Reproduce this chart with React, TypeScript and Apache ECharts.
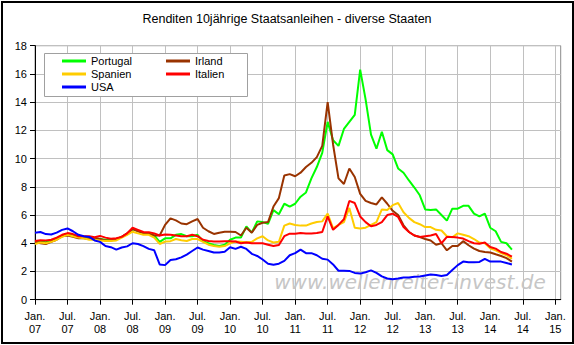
import React, { useEffect, useRef } from 'react';
import * as echarts from 'echarts';

const FONT = '"Liberation Sans", Arial, sans-serif';

const titleText = 'Renditen 10jährige Staatsanleihen - diverse Staaten';
const watermark = 'www.wellenreiter-invest.de';

const monthNames = ['Jan.', 'Feb.', 'Mär.', 'Apr.', 'Mai', 'Jun.', 'Jul.', 'Aug.', 'Sep.', 'Okt.', 'Nov.', 'Dez.'];
const years = ['07', '08', '09', '10', '11', '12', '13', '14', '15'];
const axisMonthCount = 98; // Jan. 07 .. Feb. 15

const categories: string[] = [];
years.forEach((y) => monthNames.forEach((m) => categories.push(m + '\n' + y)));
const axisCategories = categories.slice(0, axisMonthCount);

const seriesNames = ['Portugal', 'Irland', 'Spanien', 'Italien', 'USA'];
const seriesColors = ['#00ff00', '#993300', '#ffcc00', '#ff0000', '#0000ff'];

// monthly values, Jan. 07 .. May 14
const portugal = [
  4.05, 4.12, 4.08, 4.18, 4.3, 4.5, 4.65, 4.55, 4.45, 4.42, 4.35, 4.35,
  4.3, 4.25, 4.25, 4.28, 4.45, 4.65, 5.0, 4.88, 4.75, 4.7, 4.55, 4.1,
  4.35, 4.35, 4.6, 4.65, 4.5, 4.5, 4.6, 4.15, 4.0, 3.88, 3.8, 3.9,
  4.25, 4.4, 4.4, 5.2, 4.75, 5.55, 5.5, 5.38, 6.35, 6.05, 6.8, 6.6,
  6.8, 7.3, 7.6, 8.6, 9.4, 10.4, 12.6, 11.3, 10.9, 12.1, 12.6, 13.1,
  16.3, 14.2, 11.7, 10.7, 11.9, 10.6, 10.3, 9.3, 9.0, 8.45, 7.95, 7.4,
  6.4, 6.35, 6.4, 6.0, 5.6, 6.45, 6.45, 6.65, 6.65, 6.1, 5.9, 6.1,
  5.1, 4.85, 4.1, 4.0, 3.55,
];
const irland = [
  4.1, 4.0, 3.95, 4.1, 4.25, 4.5, 4.55, 4.45, 4.35, 4.35, 4.3, 4.35,
  4.3, 4.2, 4.2, 4.3, 4.45, 4.7, 5.0, 4.85, 4.7, 4.65, 4.55, 4.55,
  5.3, 5.76, 5.62, 5.4, 5.35, 5.55, 5.72, 5.1, 4.85, 4.66, 4.75, 4.82,
  4.82, 4.8, 4.55, 5.1, 4.75, 5.3, 5.45, 5.5, 6.6, 7.2, 8.8, 8.9,
  8.75, 9.0, 9.4, 9.7, 10.1, 10.9, 14.0, 11.0, 8.6, 8.2, 9.3, 8.7,
  7.5, 7.0, 6.85, 6.75, 7.25, 6.8, 6.3, 6.0, 5.27, 4.8, 4.55, 4.44,
  4.3, 4.2, 3.9, 4.0, 3.5, 3.8, 3.8, 4.15, 3.86, 3.62, 3.45, 3.38,
  3.35, 3.22, 3.1, 2.95, 2.7,
];
const spanien = [
  3.95, 4.05, 4.0, 4.1, 4.25, 4.45, 4.6, 4.5, 4.4, 4.35, 4.25, 4.25,
  4.2, 4.16, 4.16, 4.2, 4.4, 4.6, 4.82, 4.7, 4.6, 4.6, 4.4, 3.95,
  4.12, 4.15, 4.3, 4.22, 4.16, 4.3, 4.3, 4.1, 3.9, 3.8, 3.76, 3.8,
  4.0, 4.12, 4.1, 4.08, 4.1, 4.35, 4.5, 4.2, 4.05, 4.1, 5.25, 5.4,
  5.3, 5.25, 5.25, 5.4, 5.5, 5.55, 6.1, 5.05, 5.3, 5.5, 6.5, 5.1,
  5.05, 5.1, 5.3, 5.5, 6.4, 6.35, 6.7, 6.85, 6.2, 5.8, 5.5, 5.35,
  5.15, 5.15, 4.95, 4.9, 4.5, 4.42, 4.7, 4.6, 4.5, 4.3, 4.05, 4.0,
  3.65, 3.5, 3.3, 3.15, 2.9,
];
const italien = [
  4.16, 4.22, 4.2, 4.25, 4.4, 4.6, 4.72, 4.65, 4.5, 4.5, 4.5, 4.42,
  4.52, 4.4, 4.32, 4.35, 4.45, 4.7, 5.1, 4.95, 4.8, 4.78, 4.7, 4.55,
  4.62, 4.6, 4.55, 4.5, 4.5, 4.6, 4.5, 4.25, 4.16, 4.12, 4.12, 4.15,
  4.15, 4.12, 4.0, 4.05, 4.0, 4.0, 4.0, 3.9, 3.8, 3.88, 4.5, 4.68,
  4.68, 4.72, 4.7, 4.7, 4.72, 4.8, 5.9, 4.95, 5.3, 5.7, 7.0, 6.85,
  5.9, 5.5, 5.2, 5.3, 5.5, 6.0, 6.1, 5.86, 5.15, 4.8, 4.55, 4.45,
  4.5, 4.55, 4.65, 4.0, 4.45, 4.45, 4.4, 4.33, 4.15, 4.0, 3.97, 4.05,
  3.74, 3.62, 3.38, 3.26, 3.05,
];
const usa = [
  4.75, 4.8, 4.65, 4.62, 4.75, 4.95, 5.05, 4.85, 4.6, 4.5, 4.45, 4.2,
  4.1, 3.8, 3.72, 3.55, 3.7, 3.78, 4.0, 3.95, 3.8, 3.6, 3.5, 2.5,
  2.45, 2.82, 2.87, 3.0, 3.2, 3.45, 3.7, 3.55, 3.45, 3.34, 3.34, 3.4,
  3.72, 3.6, 3.75, 3.6, 3.25, 3.1, 2.85, 2.55, 2.47, 2.55, 2.75, 3.15,
  3.3, 3.55, 3.3, 3.3, 3.15, 2.9, 2.84, 2.5, 2.05, 2.05, 2.04, 1.9,
  1.85, 1.95, 2.08, 1.9, 1.65, 1.5, 1.45, 1.5, 1.57, 1.57, 1.62, 1.65,
  1.72, 1.78, 1.75, 1.68, 1.75, 2.1, 2.45, 2.7, 2.65, 2.65, 2.68, 2.9,
  2.7, 2.7, 2.7, 2.6, 2.5,
];
const seriesValues = [portugal, irland, spanien, italien, usa];

const yMin = 0;
const yMax = 18;
const yStep = 2;

export default function App() {
  const ref = useRef<HTMLDivElement>(null);

  useEffect(() => {
    if (!ref.current) return;
    const chart = echarts.init(ref.current, null, { renderer: 'svg' });

    const legendCommon = {
      orient: 'vertical' as const,
      top: 54.5,
      itemWidth: 24,
      itemHeight: 3,
      itemGap: 0,
      icon: 'rect',
      padding: 0,
      selectedMode: false,
      z: 6,
      textStyle: { fontSize: 11, lineHeight: 13, color: '#000', fontFamily: FONT },
    };

    chart.setOption({
      animation: false,
      backgroundColor: '#fff',
      title: {
        text: titleText,
        left: 'center',
        top: 12,
        padding: 0,
        textStyle: { fontSize: 12.5, fontWeight: 'normal', color: '#000', fontFamily: FONT },
      },
      grid: {
        left: 35,
        right: 13.3,
        top: 45.7,
        bottom: 45.3,
        show: true,
        borderColor: '#8c8c8c',
        borderWidth: 1,
        backgroundColor: '#fff',
      },
      legend: [
        { ...legendCommon, left: 62, data: ['Portugal', 'Spanien', 'USA'] },
        { ...legendCommon, left: 166, data: ['Irland', 'Italien'] },
      ],
      xAxis: {
        type: 'category',
        data: axisCategories,
        boundaryGap: false,
        axisLine: { show: true, lineStyle: { color: '#000', width: 1 } },
        axisTick: { show: true, interval: 5, length: 5, lineStyle: { color: '#000' } },
        axisLabel: {
          interval: 5,
          fontSize: 11,
          lineHeight: 13,
          margin: 10,
          color: '#000',
          fontFamily: FONT,
        },
        splitLine: { show: true, interval: 5, lineStyle: { color: '#c0c0c0', width: 1 } },
      },
      yAxis: {
        type: 'value',
        min: yMin,
        max: yMax,
        interval: yStep,
        axisLine: { show: true, lineStyle: { color: '#000', width: 1 } },
        axisTick: { show: true, length: 5, lineStyle: { color: '#000' } },
        axisLabel: { fontSize: 11, margin: 8, color: '#000', fontFamily: FONT },
        splitLine: { show: true, lineStyle: { color: '#c0c0c0', width: 1 } },
      },
      graphic: [
        {
          type: 'text',
          z: 1,
          x: 410,
          y: 282,
          style: {
            text: watermark,
            fill: '#c6c6c6',
            font: 'italic 20px "DejaVu Sans", sans-serif',
            textAlign: 'center',
            textVerticalAlign: 'middle',
          },
        },
        {
          type: 'rect',
          z: 5,
          shape: { x: 44.5, y: 53.5, width: 203, height: 43 },
          style: { fill: '#fff', stroke: '#a0a0a0', lineWidth: 1 },
        },
        {
          type: 'rect',
          z: 10,
          shape: { x: 2, y: 2, width: 571, height: 341 },
          style: { fill: 'none', stroke: '#000', lineWidth: 2 },
        },
      ],
      series: seriesNames.map((name, i) => ({
        name,
        type: 'line',
        data: seriesValues[i],
        showSymbol: false,
        symbol: 'none',
        lineStyle: { color: seriesColors[i], width: 2 },
        itemStyle: { color: seriesColors[i] },
        z: 2 + i * 0.1,
      })),
    });

    return () => chart.dispose();
  }, []);

  return (
    <div
      ref={ref}
      style={{ position: 'absolute', left: 0, top: 0, width: 574, height: 345 }}
    />
  );
}
